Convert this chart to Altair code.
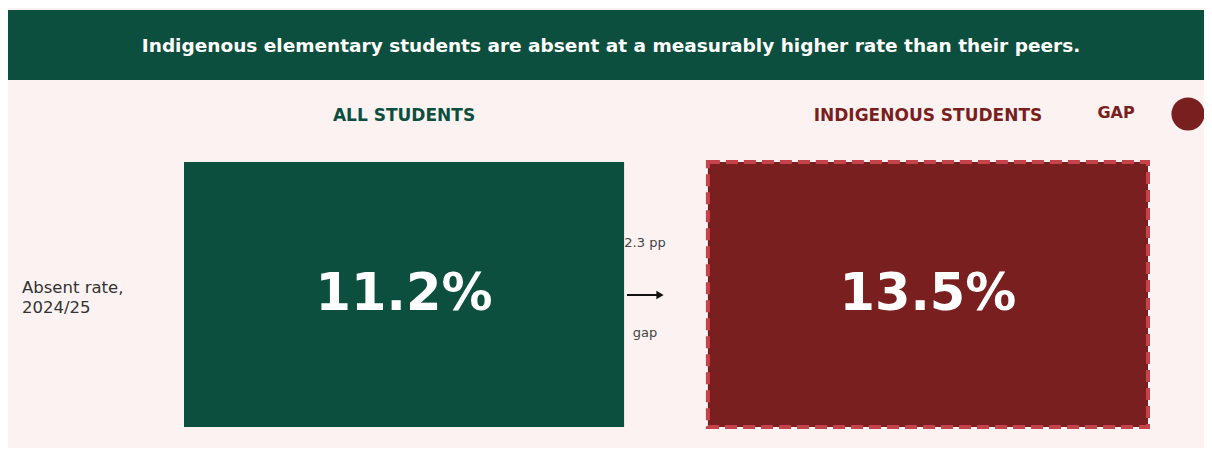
import altair as alt
import pandas as pd

# ---- data ----
groups = ["ALL STUDENTS", "INDIGENOUS STUDENTS"]
rates = [11.2, 13.5]
metric = ["Absent rate,\n2024/25"]
headline = ["Indigenous elementary students are absent at a measurably higher rate than their peers."]
legend_label = ["GAP"]

GREEN = "#0d4f3e"
RED = "#7a1f20"
LIGHTRED = "#c6434b"
BG = "#fcf2f2"
FONT = "DejaVu Sans"

df = pd.DataFrame({"group": groups, "rate": rates, "metric": metric * len(groups)})
gap_df = pd.DataFrame({"gap": [round(rates[1] - rates[0], 1)], "metric": metric})
head_df = pd.DataFrame({"t": headline})
leg_df = pd.DataFrame({"t": legend_label})
row_df = pd.DataFrame({"metric": metric})

xscale = alt.Scale(domain=groups, range=[176, 1140], paddingInner=0.16, paddingOuter=0)
yscale = alt.Scale(domain=metric, range=[154, 419], paddingInner=0, paddingOuter=0)
cscale = alt.Scale(domain=groups, range=[GREEN, RED])

X = alt.X("group:N", scale=xscale, axis=None)
Y = alt.Y("metric:N", scale=yscale, axis=None)
Xc = alt.X("group:N", scale=xscale, axis=None, bandPosition=0.5)
Yc = alt.Y("metric:N", scale=yscale, axis=None, bandPosition=0.5)

band = alt.Chart(head_df).mark_rect(color=GREEN).encode(
    x=alt.value(0), x2=alt.value(1196), y=alt.value(2), y2=alt.value(72)
)
band_text = alt.Chart(head_df).mark_text(
    font=FONT, fontSize=18.5, fontWeight="bold", color="white", align="center", baseline="middle"
).encode(x=alt.value(603), y=alt.value(38), text="t:N")

boxes = alt.Chart(df).mark_rect().encode(
    x=X, y=Y, color=alt.Color("group:N", scale=cscale, legend=None)
)
border = alt.Chart(df).transform_filter(alt.datum.group == groups[1]).mark_rect(
    filled=False, stroke=LIGHTRED, strokeWidth=4, strokeDash=[12, 6]
).encode(x=X, y=Y)

values = alt.Chart(df).transform_calculate(
    lbl="format(datum.rate, '.1f') + '%'"
).mark_text(
    font=FONT, fontSize=51, fontWeight="bold", color="white", align="center", baseline="middle"
).encode(x=Xc, y=Yc, text="lbl:N")

headers = alt.Chart(df).mark_text(
    font=FONT, fontSize=17, fontWeight="bold", align="center", baseline="middle"
).encode(
    x=Xc, y=alt.value(108), text="group:N",
    color=alt.Color("group:N", scale=cscale, legend=None),
)

row_label = alt.Chart(row_df).mark_text(
    font=FONT, fontSize=16.5, color="#333333", align="left", baseline="middle",
    lineBreak="\n", lineHeight=20, dy=-7,
).encode(x=alt.value(14), y=Yc, text="metric:N")

gap_top = alt.Chart(gap_df).transform_calculate(
    lbl="format(datum.gap, '.1f') + ' pp'"
).mark_text(font=FONT, fontSize=13, color="#444444", align="center", baseline="middle").encode(
    x=alt.value(637), y=alt.value(235), text="lbl:N"
)
gap_bot = alt.Chart(gap_df).transform_calculate(lbl="'gap'").mark_text(
    font=FONT, fontSize=13, color="#444444", align="center", baseline="middle"
).encode(x=alt.value(637), y=alt.value(325), text="lbl:N")

arrow_line = alt.Chart(gap_df).mark_rule(color="#111111", strokeWidth=2).encode(
    x=alt.value(619), x2=alt.value(650), y=alt.value(287)
)
arrow_head = alt.Chart(gap_df).mark_point(
    shape="triangle-right", filled=True, color="#111111", size=70, opacity=1
).encode(x=alt.value(652), y=alt.value(287))

leg_text = alt.Chart(leg_df).mark_text(
    font=FONT, fontSize=16, fontWeight="bold", color=RED, align="center", baseline="middle"
).encode(x=alt.value(1108), y=alt.value(105), text="t:N")
leg_dot = alt.Chart(leg_df).mark_circle(color=RED, size=1100, opacity=1).encode(
    x=alt.value(1180), y=alt.value(106)
)

chart = alt.layer(
    band, band_text, boxes, border, values, headers, row_label,
    gap_top, gap_bot, arrow_line, arrow_head, leg_text, leg_dot
).properties(
    width=1196, height=440, background=BG, padding=0, autosize="none",
).configure_view(stroke=None, fill=BG)

chart.save("out.html", embed_options={"renderer": "svg", "actions": False})
